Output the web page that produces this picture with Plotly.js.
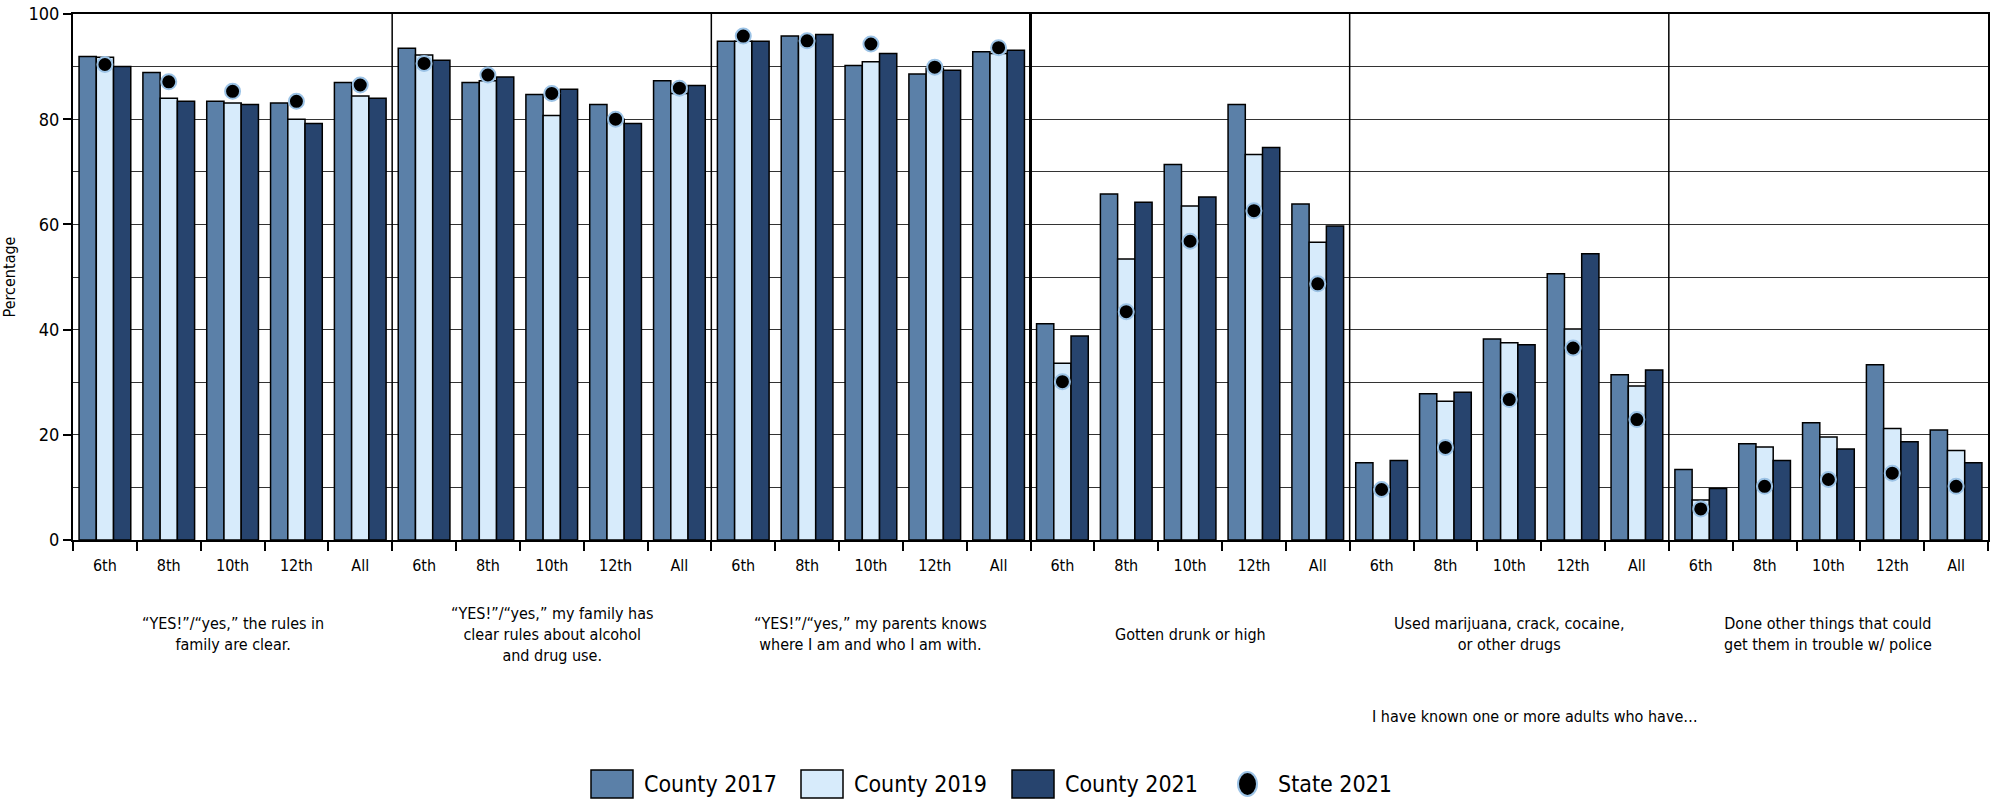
<!DOCTYPE html>
<html><head><meta charset="utf-8">
<script src="https://cdn.plot.ly/plotly-3.0.1.min.js"></script>
<style>html,body{margin:0;padding:0;background:#fff}#chart{width:2001px;height:804px}</style>
</head><body><div id="chart"></div>
<script>
const grades = ["6th","8th","10th","12th","All"];
const groupLabels = [
  "“YES!”/“yes,” the rules in<br>family are clear.",
  "“YES!”/“yes,” my family has<br>clear rules about alcohol<br>and drug use.",
  "“YES!”/“yes,” my parents knows<br>where I am and who I am with.",
  "Gotten drunk or high",
  "Used marijuana, crack, cocaine,<br>or other drugs",
  "Done other things that could<br>get them in trouble w/ police"
];
const footnote = "I have known one or more adults who have…";
const seriesNames = ["County 2017","County 2019","County 2021","State 2021"];

const county2017 = [91.9,88.9,83.4,83.1,87.0, 93.5,87.0,84.7,82.8,87.3, 94.8,95.8,90.2,88.6,92.8, 41.1,65.8,71.4,82.8,63.9, 14.7,27.8,38.2,50.6,31.4, 13.4,18.3,22.3,33.3,20.9];
const county2019 = [91.8,84.0,83.1,80.0,84.4, 92.2,87.3,80.7,80.0,84.9, 94.8,94.6,90.9,89.7,92.5, 33.6,53.4,63.5,73.3,56.6, 10.0,26.4,37.5,40.1,29.3, 7.6,17.7,19.6,21.2,17.0];
const county2021 = [90.0,83.4,82.8,79.2,84.0, 91.2,88.0,85.7,79.2,86.4, 94.8,96.1,92.5,89.3,93.1, 38.8,64.2,65.2,74.6,59.7, 15.1,28.1,37.1,54.4,32.3, 9.8,15.1,17.3,18.7,14.7];
const state2021  = [90.4,87.1,85.3,83.4,86.5, 90.6,88.4,84.9,80.0,85.9, 95.8,94.9,94.3,89.9,93.6, 30.1,43.4,56.8,62.6,48.7, 9.6,17.6,26.7,36.5,22.9, 5.9,10.2,11.5,12.7,10.2];

const colors = ["#5b80a8","#d7ebfb","#27446e"];
const FONT = '"Liberation Sans Narrow","DejaVu Sans Condensed",sans-serif';

const W = 2001, H = 804, L = 73, R = 13, T = 14, B = 264;
const pw = W - L - R, ph = H - T - B;
const px2x = p => (p - L) / pw;
const py2y = p => (H - B - p) / ph;

const nG = groupLabels.length, nK = grades.length;
const xs = [], tickText = [];
for (let g = 0; g < nG; g++) for (let k = 0; k < nK; k++) { xs.push(g * nK + k); tickText.push(grades[k]); }

const barVals = [county2017, county2019, county2021];
const traces = barVals.map((v, i) => ({
  type: "bar", x: xs, y: v, name: seriesNames[i], showlegend: false,
  marker: {color: colors[i], line: {color: "#000", width: 1.5}}
}));
traces.push({
  type: "scatter", mode: "markers", x: xs, y: state2021, name: seriesNames[3], showlegend: false,
  marker: {color: "#000", size: 15, line: {color: "#9cc3e6", width: 2}}
});

const shapes = [];
for (let g = 1; g < nG; g++) {
  shapes.push({type: "line", xref: "x", yref: "paper", x0: g * nK - 0.5, x1: g * nK - 0.5, y0: 0, y1: 1,
    line: {color: "#000", width: g === 3 ? 3 : 1.5}});
}
const annotations = [];
for (let g = 0; g < nG; g++) {
  annotations.push({xref: "x", yref: "paper", x: g * nK + (nK - 1) / 2, y: py2y(634), text: groupLabels[g],
    showarrow: false, xanchor: "center", yanchor: "middle", font: {family: FONT, size: 16, color: "#000"}});
}
annotations.push({xref: "paper", yref: "paper", x: px2x(1535), y: py2y(716), text: footnote, showarrow: false,
  xanchor: "center", yanchor: "middle", font: {family: FONT, size: 16, color: "#000"}});

// custom legend
const legY = 784;
const legItems = [
  {box: 591, text: 642, c: colors[0]},
  {box: 801, text: 852, c: colors[1]},
  {box: 1012, text: 1063, c: colors[2]}
];
legItems.forEach((it, i) => {
  shapes.push({type: "rect", xref: "paper", yref: "paper", x0: px2x(it.box), x1: px2x(it.box + 42),
    y0: py2y(legY + 14), y1: py2y(legY - 14), fillcolor: it.c, line: {color: "#000", width: 1.5}});
  annotations.push({xref: "paper", yref: "paper", x: px2x(it.text), y: py2y(legY), text: seriesNames[i],
    showarrow: false, xanchor: "left", yanchor: "middle", font: {family: FONT, size: 23, color: "#000"}});
});
shapes.push({type: "circle", xref: "paper", yref: "paper", x0: px2x(1238), x1: px2x(1257),
  y0: py2y(legY + 12), y1: py2y(legY - 12), fillcolor: "#000", line: {color: "#9cc3e6", width: 2}});
annotations.push({xref: "paper", yref: "paper", x: px2x(1276), y: py2y(legY), text: seriesNames[3],
  showarrow: false, xanchor: "left", yanchor: "middle", font: {family: FONT, size: 23, color: "#000"}});

const layout = {
  width: W, height: H, margin: {l: L, r: R, t: T, b: B},
  paper_bgcolor: "#fff", plot_bgcolor: "#fff",
  font: {family: FONT, size: 17, color: "#000"},
  barmode: "group", bargap: 0.19, bargroupgap: 0,
  showlegend: false,
  xaxis: {
    range: [-0.5, xs.length - 0.5], tickmode: "array", tickvals: xs, ticktext: tickText,
    ticks: "", showgrid: false, zeroline: false, showline: true, linecolor: "#000", linewidth: 2, mirror: true,
    tickfont: {family: FONT, size: 16, color: "#000"}, ticklabelstandoff: 10,
    minor: {tickmode: "linear", tick0: -0.5, dtick: 1, ticks: "outside", ticklen: 9, tickwidth: 1.5, tickcolor: "#000", showgrid: false}
  },
  yaxis: {
    range: [0, 100], tickmode: "array", tickvals: [0,20,40,60,80,100], ticks: "outside", ticklen: 8, tickwidth: 1.5, tickcolor: "#000",
    showgrid: true, gridcolor: "#333", gridwidth: 1.2, zeroline: false, showline: true, linecolor: "#000", linewidth: 2, mirror: true,
    tickfont: {family: FONT, size: 18, color: "#000"},
    minor: {dtick: 10, showgrid: true, gridcolor: "#333", gridwidth: 1.2, ticks: ""},
    title: {text: "Percentage", font: {family: FONT, size: 16, color: "#000"}, standoff: 14}
  },
  shapes: shapes, annotations: annotations
};
Plotly.newPlot("chart", traces, layout, {displayModeBar: false, responsive: false});
</script></body></html>
